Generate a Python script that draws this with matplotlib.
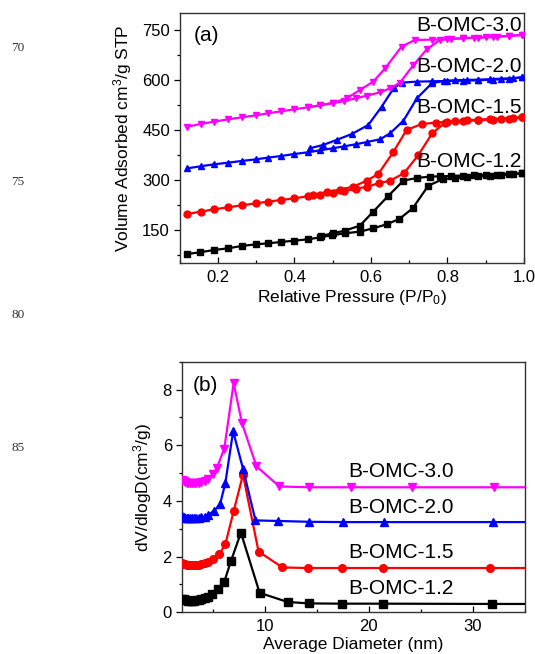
import matplotlib
matplotlib.use("Agg")
import matplotlib.pyplot as plt
from matplotlib.ticker import MultipleLocator

plt.rcParams['font.family'] = ['Liberation Sans', 'DejaVu Sans']
plt.rcParams['mathtext.fontset'] = 'custom'
plt.rcParams['mathtext.rm'] = 'Liberation Sans'
plt.rcParams['mathtext.it'] = 'Liberation Sans:italic'

# ---------------- Panel (a): N2 isotherms ----------------
samples = ['B-OMC-1.2', 'B-OMC-1.5', 'B-OMC-2.0', 'B-OMC-3.0']
colors = ['#000000', '#ff0000', '#0000ff', '#ff00ff']
markers = ['s', 'o', '^', 'v']

p_ads_12 = [0.12, 0.153, 0.19, 0.227, 0.262, 0.30, 0.331, 0.366, 0.40, 0.436, 0.467, 0.497, 0.532, 0.571, 0.606, 0.641,
            0.674, 0.709, 0.75, 0.787, 0.82, 0.85, 0.88, 0.91, 0.94, 0.97, 0.995]
v_ads_12 = [78, 83, 90, 95, 102, 107, 110, 114, 118, 122, 128, 134, 140, 145, 155, 167,
            183, 215, 283, 302, 306, 308, 311, 313, 315, 317, 320]
p_des_12 = [0.995, 0.96, 0.93, 0.90, 0.87, 0.84, 0.81, 0.78, 0.754, 0.72, 0.685, 0.645, 0.606, 0.571, 0.532, 0.50, 0.47]
v_des_12 = [320, 318, 316, 315, 314, 313, 312, 311, 310, 306, 298, 252, 205, 163, 148, 140, 132]

p_ads_15 = [0.12, 0.155, 0.19, 0.227, 0.262, 0.30, 0.33, 0.366, 0.40, 0.435, 0.467, 0.50, 0.53, 0.56, 0.59, 0.62,
            0.65, 0.686, 0.724, 0.76, 0.794, 0.82, 0.85, 0.88, 0.91, 0.94, 0.97, 0.995]
v_ads_15 = [198, 205, 212, 218, 224, 230, 235, 240, 245, 251, 256, 262, 267, 273, 280, 290,
            298, 320, 375, 440, 472, 476, 479, 481, 483, 484, 485, 488]
p_des_15 = [0.995, 0.96, 0.92, 0.88, 0.84, 0.80, 0.77, 0.733, 0.693, 0.658, 0.619, 0.589, 0.554, 0.519, 0.484, 0.449]
v_des_15 = [488, 484, 481, 479, 477, 475, 472, 468, 450, 383, 318, 298, 280, 271, 263, 256]

p_ads_20 = [0.12, 0.155, 0.19, 0.227, 0.262, 0.30, 0.33, 0.366, 0.40, 0.435, 0.467, 0.50, 0.53, 0.56, 0.59, 0.624,
            0.65, 0.685, 0.72, 0.759, 0.79, 0.82, 0.85, 0.88, 0.91, 0.94, 0.97, 0.995]
v_ads_20 = [335, 341, 347, 352, 357, 362, 367, 372, 378, 383, 389, 395, 401, 407, 414, 422,
            440, 478, 545, 590, 597, 599, 600, 601, 602, 604, 605, 608]
p_des_20 = [0.995, 0.96, 0.92, 0.88, 0.84, 0.80, 0.76, 0.72, 0.68, 0.659, 0.628, 0.593, 0.55, 0.51, 0.475, 0.44]
v_des_20 = [608, 603, 601, 599, 598, 597, 596, 595, 592, 575, 520, 465, 438, 420, 405, 395]

p_ads_30 = [0.12, 0.155, 0.19, 0.227, 0.262, 0.30, 0.33, 0.366, 0.40, 0.435, 0.467, 0.50, 0.53, 0.56, 0.59, 0.624,
            0.65, 0.676, 0.711, 0.746, 0.78, 0.81, 0.84, 0.87, 0.90, 0.93, 0.96, 0.995]
v_ads_30 = [460, 468, 475, 482, 488, 494, 500, 506, 512, 518, 524, 530, 537, 545, 553, 563,
            575, 592, 645, 692, 720, 723, 725, 727, 728, 730, 732, 735]
p_des_30 = [0.995, 0.96, 0.92, 0.88, 0.84, 0.80, 0.76, 0.715, 0.68, 0.637, 0.606, 0.571, 0.537, 0.502, 0.467, 0.435]
v_des_30 = [735, 732, 729, 727, 725, 723, 721, 720, 700, 635, 595, 570, 545, 532, 524, 518]

label_v_a = [355, 516, 640, 763]

# ---------------- Panel (b): pore size distribution ----------------
d_12 = [2.05, 2.2, 2.35, 2.5, 2.65, 2.8, 3.0, 3.2, 3.4, 3.65, 3.9, 4.2, 4.5, 4.9, 5.45, 6.1, 6.75, 7.7,
        9.5, 12.2, 14.25, 17.4, 21.4, 31.9, 60]
v_12 = [0.48, 0.46, 0.44, 0.43, 0.42, 0.42, 0.42, 0.42, 0.43, 0.45, 0.47, 0.5, 0.56, 0.65, 0.82, 1.1, 1.85, 2.86,
        0.7, 0.37, 0.32, 0.31, 0.31, 0.3, 0.3]

d_15 = [2.05, 2.2, 2.35, 2.5, 2.65, 2.8, 3.0, 3.2, 3.4, 3.65, 3.9, 4.2, 4.5, 5.0, 5.6, 6.2, 7.0, 7.9,
        9.4, 11.7, 14.2, 17.4, 21.4, 31.7, 60]
v_15 = [1.78, 1.75, 1.72, 1.7, 1.69, 1.69, 1.69, 1.69, 1.7, 1.71, 1.73, 1.76, 1.82, 1.9, 2.08, 2.44, 3.63, 4.94,
        2.18, 1.61, 1.59, 1.59, 1.59, 1.59, 1.59]

d_20 = [2.05, 2.2, 2.35, 2.5, 2.65, 2.8, 3.0, 3.2, 3.4, 3.65, 3.9, 4.2, 4.5, 5.1, 5.7, 6.2, 6.95, 7.9,
        9.1, 11.3, 14.3, 17.5, 21.5, 32.0, 60]
v_20 = [3.46, 3.42, 3.39, 3.38, 3.37, 3.37, 3.37, 3.37, 3.38, 3.39, 3.41, 3.44, 3.5, 3.63, 3.89, 4.64, 6.5, 5.16,
        3.3, 3.28, 3.25, 3.24, 3.24, 3.24, 3.24]

d_30 = [2.05, 2.2, 2.35, 2.5, 2.65, 2.8, 3.0, 3.2, 3.4, 3.65, 3.9, 4.2, 4.5, 5.0, 5.4, 6.1, 7.0, 7.8,
        9.2, 11.4, 14.25, 18.3, 24.2, 32.1, 60]
v_30 = [4.76, 4.72, 4.68, 4.66, 4.64, 4.63, 4.63, 4.63, 4.64, 4.66, 4.69, 4.73, 4.8, 4.95, 5.2, 5.88, 8.23, 6.8,
        5.24, 4.52, 4.49, 4.49, 4.49, 4.49, 4.49]

label_v_b = [0.85, 2.14, 3.76, 5.06]

iso = [(p_ads_12, v_ads_12, p_des_12, v_des_12),
       (p_ads_15, v_ads_15, p_des_15, v_des_15),
       (p_ads_20, v_ads_20, p_des_20, v_des_20),
       (p_ads_30, v_ads_30, p_des_30, v_des_30)]
psd = [(d_12, v_12), (d_15, v_15), (d_20, v_20), (d_30, v_30)]

W, H = 535, 654
fig = plt.figure(figsize=(W / 100, H / 100), dpi=100)

ax1 = fig.add_axes([179.7 / W, 1 - 263.3 / H, 344.3 / W, 250 / H])
ax2 = fig.add_axes([181.7 / W, 1 - 612.3 / H, 342.8 / W, 250.6 / H])

for (pa, va, pd, vd), c, m in zip(iso, colors, markers):
    for xs, ys in ((pa, va), (pd, vd)):
        ax1.plot(xs, ys, color=c, marker=m, ms=5.0, lw=1.6, zorder=3)

for (d, v), c, m in zip(psd, colors, markers):
    ax2.plot(d, v, color=c, marker=m, ms=5.5, lw=1.6, zorder=3, clip_on=True)

ax1.set_xlim(0.1, 1.0)
ax1.set_ylim(50, 800)
ax1.xaxis.set_major_locator(MultipleLocator(0.2))
ax1.xaxis.set_minor_locator(MultipleLocator(0.1))
ax1.yaxis.set_major_locator(MultipleLocator(150))
ax1.yaxis.set_minor_locator(MultipleLocator(75))
ax1.set_xticks([0.2, 0.4, 0.6, 0.8, 1.0])
ax1.set_xticklabels(['0.2', '0.4', '0.6', '0.8', '1.0'])
ax1.set_yticks([150, 300, 450, 600, 750])

ax2.set_xlim(2, 35)
ax2.set_ylim(0, 9)
ax2.xaxis.set_major_locator(MultipleLocator(10))
ax2.xaxis.set_minor_locator(MultipleLocator(5))
ax2.yaxis.set_major_locator(MultipleLocator(2))
ax2.yaxis.set_minor_locator(MultipleLocator(1))

for ax in (ax1, ax2):
    for s in ax.spines.values():
        s.set_linewidth(1.0)
        s.set_color('#333333')
    ax.tick_params(axis='x', which='major', direction='in', length=4, width=0.9, labelsize=12, pad=5)
    ax.tick_params(axis='x', which='minor', direction='in', length=2.5, width=0.9)
    ax.tick_params(axis='y', which='major', direction='out', length=4, width=0.9, labelsize=12, pad=3)
    ax.tick_params(axis='y', which='minor', direction='out', length=2.5, width=0.9)

ax1.set_xlabel(r'Relative Pressure (P/P$_\mathregular{0}$)', fontsize=12.5, labelpad=2)
ax1.set_ylabel('Volume Adsorbed cm$^\\mathregular{3}$/g STP', fontsize=12.5, labelpad=6)
ax2.set_xlabel('Average Diameter (nm)', fontsize=12.5, labelpad=2)
ax2.set_ylabel('dV/dlogD(cm$^\\mathregular{3}$/g)', fontsize=12.5, labelpad=6)

for name, yv in zip(samples, label_v_a):
    ax1.text(0.995, yv, name, ha='right', va='center', fontsize=15)
for name, yv in zip(samples, label_v_b):
    ax2.text(23.1, yv, name, ha='center', va='center', fontsize=15)

ax1.text(0.04, 0.91, '(a)', transform=ax1.transAxes, ha='left', va='center', fontsize=15)
ax2.text(0.033, 0.907, '(b)', transform=ax2.transAxes, ha='left', va='center', fontsize=15)

for num, yp in zip(['70', '75', '80', '85'], [48.3, 181.7, 315, 448.3]):
    fig.text(18 / W, 1 - yp / H, num, ha='center', va='center', fontsize=9.5,
             family=['Liberation Serif', 'DejaVu Serif'], color='#333333')

fig.savefig('out.png', dpi=100)
